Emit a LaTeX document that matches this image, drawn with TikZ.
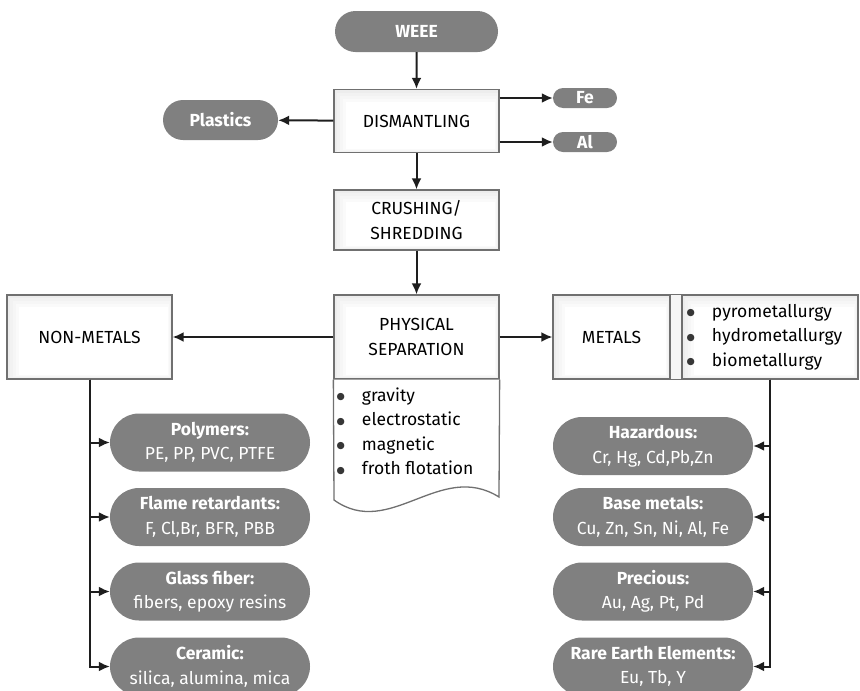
\documentclass[tikz,border=0pt]{standalone}
\usepackage{fontspec}
\setmainfont{Fira Sans}
\newfontfamily\dotfont{DejaVu Sans}
\usetikzlibrary{arrows.meta,shapes.misc}

\definecolor{pillgray}{RGB}{128,128,128}
\definecolor{edgegray}{RGB}{112,112,112}
\definecolor{linedark}{RGB}{30,30,30}
\definecolor{dotgray}{RGB}{55,55,55}

\newcommand{\txtsize}{\fontsize{17.5}{24.5}\selectfont}
\newcommand{\bul}{\textcolor{dotgray}{\raisebox{1.5pt}{\dotfont\fontsize{9.5}{10}\selectfont ●}}}

\begin{document}
\begin{tikzpicture}[x=1pt,y=-1pt,
  % soft inner shade along the top and left edges of the white boxes
  innershade/.style={path picture={
    \foreach \d/\c in {3/5,6/3.5,9/2,12/0}{
      \fill[black!\c]
        ([shift={(\d pt,-\d pt)}]path picture bounding box.north west)
        rectangle ([shift={(-\d pt*0.3,\d pt*0.3)}]path picture bounding box.south east);
    }}},
  box/.style={draw=edgegray, line width=1.3pt, fill=black!7, innershade,
    inner sep=0pt, font=\txtsize, align=center, text=black},
  pill/.style={rounded rectangle, fill=pillgray, inner sep=0pt,
    text=white, align=center, font=\txtsize},
  bigpill/.style={pill, minimum width=200pt, minimum height=58pt},
  flow/.style={draw=linedark, line width=2pt,
    -{Latex[length=11pt,width=10pt]}},
  listtext/.style={inner sep=0pt, font=\txtsize, text=black},
]
\useasboundingbox (0,0) rectangle (860,691);

% main column
\node[pill, minimum width=163pt, minimum height=41pt] (weee) at (416.5,31.5) {\bfseries WEEE};
\node[box, minimum width=165pt, minimum height=63pt] (dis) at (416.5,121) {DISMANTLING};
\node[pill, minimum width=115pt, minimum height=40pt] (plastics) at (220.5,120) {\bfseries Plastics};
\node[pill, minimum width=64pt, minimum height=20pt] (fe) at (585,98) {\bfseries Fe};
\node[pill, minimum width=64pt, minimum height=20pt] (al) at (585,142) {\bfseries Al};
\node[box, minimum width=165pt, minimum height=60pt] (crush) at (416.5,220) {CRUSHING/\\SHREDDING};
\node[box, minimum width=165pt, minimum height=84pt] (phys) at (416.5,337) {PHYSICAL\\SEPARATION};

% separation methods below the physical separation box
\draw[draw=edgegray, line width=1.3pt, fill=white]
  (phys.south west) -- (334,500)
  .. controls (390,540) and (440,460) .. (499,497) -- (phys.south east);
\node[listtext, anchor=north west] (methods) at (336.5,384)
  {\begin{tabular}{@{}l@{\hspace{17pt}}l@{}}
   \bul & gravity\\
   \bul & electrostatic\\
   \bul & magnetic\\
   \bul & froth flotation
   \end{tabular}};

% side boxes
\node[box, minimum width=165pt, minimum height=84pt] (nm) at (89.5,337) {NON-METALS};
\node[box, minimum width=117pt, minimum height=84pt] (metl) at (611.5,337) {METALS};
\node[box, minimum width=176pt, minimum height=84pt] (metlist) at (770,337) {};
\draw[draw=edgegray, line width=1.3pt, fill=black!4] (metl.north east) rectangle (metlist.south west);
\node[listtext, anchor=west] (routes) at (686.5,337)
  {\begin{tabular}{@{}l@{\hspace{17pt}}l@{}}
   \bul & pyrometallurgy\\
   \bul & hydrometallurgy\\
   \bul & biometallurgy
   \end{tabular}};

% non-metal fractions
\node[bigpill] (poly) at (210,442.5) {\bfseries Polymers:\\PE, PP, PVC, PTFE};
\node[bigpill] (flame) at (210,517) {\bfseries Flame retardants:\\F, Cl,Br, BFR, PBB};
\node[bigpill] (glass) at (210,591.5) {\bfseries Glass fiber:\\fibers, epoxy resins};
\node[bigpill] (cer) at (210,666.5) {\bfseries Ceramic:\\silica, alumina, mica};

% metal fractions
\node[bigpill] (haz) at (653,446) {\bfseries Hazardous:\\Cr, Hg, Cd,Pb,Zn};
\node[bigpill] (base) at (653,517) {\bfseries Base metals:\\Cu, Zn, Sn, Ni, Al, Fe};
\node[bigpill] (prec) at (653,591.5) {\bfseries Precious:\\Au, Ag, Pt, Pd};
\node[bigpill] (ree) at (653,666.5) {\bfseries Rare Earth Elements:\\Eu, Tb, Y};

% connectors
\draw[flow] (weee) -- (dis);
\draw[flow] (dis) -- (plastics);
\draw[flow] (dis.east |- fe) -- (fe);
\draw[flow] (dis.east |- al) -- (al);
\draw[flow] (dis) -- (crush);
\draw[flow] (crush) -- (phys);
\draw[flow] (phys) -- (nm);
\draw[flow] (phys) -- (metl);
\draw[flow] (nm.south) |- (poly);
\draw[flow] (nm.south) |- (flame);
\draw[flow] (nm.south) |- (glass);
\draw[flow] (nm.south) |- (cer);
\draw[flow] (metlist.south) |- (haz);
\draw[flow] (metlist.south) |- (base);
\draw[flow] (metlist.south) |- (prec);
\draw[flow] (metlist.south) |- (ree);
\end{tikzpicture}
\end{document}
